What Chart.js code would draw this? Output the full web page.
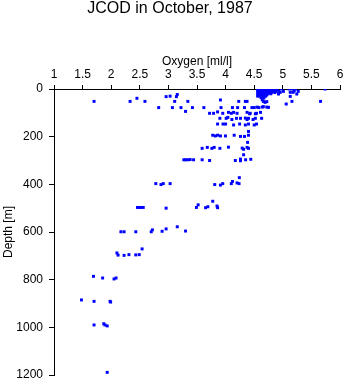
<!DOCTYPE html>
<html>
<head>
<meta charset="utf-8">
<script src="https://cdn.jsdelivr.net/npm/chart.js@4"></script>
<style>
  html, body { margin: 0; padding: 0; background: #fff; }
  #wrap { width: 345px; height: 384px; }
</style>
</head>
<body>
<div id="wrap"><canvas id="jcod-chart" width="345" height="384"></canvas></div>
<script>
// labels
const chartTitle = 'JCOD in October, 1987';
const xTitle = 'Oxygen [ml/l]';
const yTitle = 'Depth [m]';

// oxygen [ml/l], one row per depth band (same order as depth below)
const oxygen = [
  4.56, 4.60, 4.63, 4.66, 4.69, 4.72, 4.75, 4.78, 4.81, 4.84, 4.87, 4.90,
  4.57, 4.62, 4.67, 4.71, 4.76, 4.80, 4.85, 4.89,
  4.56, 4.60, 4.64, 4.69, 4.73, 4.78, 4.83, 4.88, 4.93,
  4.58, 4.62, 4.66, 4.71, 4.75, 4.80, 4.86,
  4.56, 4.61, 4.65, 4.70, 4.74, 4.79,
  4.58, 4.63, 4.68, 4.72,
  4.56, 4.60, 4.65, 4.70, 4.62, 4.67,
  4.98, 5.01, 5.11, 5.16, 5.20, 5.13, 5.18, 5.22, 5.245, 5.27, 5.13, 4.955, 4.925, 5.74, 5.66, 5.16, 5.06,
  1.70, 2.33, 2.45, 2.59, 2.96, 3.03, 3.14, 3.155, 3.11, 3.34, 3.91, 4.23, 4.345, 4.375, 4.64, 4.66, 4.69, 4.72,
  2.83, 3.07, 3.22, 3.42, 3.30, 3.62, 3.92, 4.12, 4.21, 4.33, 4.46, 4.50, 4.55, 4.58, 4.64, 4.66, 4.72, 4.75,
  3.72, 3.79, 3.86, 3.95, 4.05, 4.10, 4.14, 4.20, 4.375, 4.43, 4.42, 4.52, 4.54, 4.61,
  3.90, 4.01, 4.04, 4.11, 4.19, 4.26, 4.345, 4.375, 4.40, 4.48, 4.52, 4.63,
  3.86, 3.955, 4.00, 4.14, 4.245, 4.345, 4.40, 4.50, 4.54, 4.40,
  3.775, 3.82, 3.86, 3.91, 3.997, 4.15, 4.26, 4.33, 4.40, 4.385,
  3.59, 3.68, 3.76, 3.80, 3.90, 4.05, 4.29, 4.315, 4.375, 4.40, 4.315,
  3.27, 3.30, 3.34, 3.38, 3.44, 3.59, 3.72, 4.17, 4.26, 4.26, 4.35, 4.44,
  2.78, 2.87, 2.91, 3.03, 3.81, 3.91, 3.95, 4.10, 4.12, 4.20, 4.235, 4.24,
  2.46, 2.49, 2.515, 2.56, 2.96, 3.49, 3.52, 3.65, 3.69, 3.775, 3.85, 3.86,
  2.17, 2.225, 2.43, 2.70, 2.72, 2.89, 2.96, 3.155, 3.30,
  2.10, 2.12, 2.225, 2.31, 2.43, 2.49, 2.54,
  1.69, 1.85, 2.05, 2.085,
  1.48, 1.70, 1.98, 1.99,
  1.70, 1.87, 1.89, 1.93,
  1.93
];

// depth [m]
const depth = [
  0, 0, 0, 0, 0, 0, 0, 0, 0, 0, 0, 0,
  5, 5, 5, 5, 5, 5, 5, 5,
  10, 10, 10, 10, 10, 10, 10, 10, 10,
  15, 15, 15, 15, 15, 15, 15,
  20, 20, 20, 20, 20, 20,
  25, 25, 25, 25,
  30, 30, 30, 30, 36, 38,
  0, 10, 0, 0, 8, 14, 14, 0, 21, 10, 31, 14, 21, 0, 52, 52, 63,
  52, 52, 39, 52, 32, 30, 32, 23, 52, 52, 46, 52, 52, 52, 45, 52, 56, 53,
  78, 78, 78, 78, 94, 78, 78, 78, 78, 78, 78, 78, 76, 78, 76, 74, 76, 77,
  102, 102, 96, 102, 98, 102, 98, 102, 98, 102, 104, 104, 102, 98,
  123, 123, 119, 128, 123, 123, 122, 128, 123, 128, 123, 123,
  147, 147, 147, 151, 147, 151, 147, 151, 147, 178,
  194, 197, 194, 197, 197, 194, 199, 199, 194, 224,
  249, 245, 249, 245, 249, 244, 248, 253, 245, 249, 276,
  297, 297, 297, 296, 297, 297, 300, 300, 294, 301, 297, 295,
  397, 401, 397, 397, 401, 403, 397, 397, 388, 394, 397, 372,
  497, 497, 497, 497, 500, 497, 486, 498, 494, 471, 491, 498,
  599, 599, 599, 599, 591, 597, 587, 578, 596,
  688, 697, 698, 695, 696, 695, 671,
  786, 793, 797, 793,
  885, 891, 891, 894,
  990, 985, 990, 994,
  1189
];

const points = oxygen.map((o, i) => ({ x: o, y: depth[i] }));

const font = { family: '"Liberation Sans", Arial, sans-serif', size: 12 };

var ctx = document.getElementById('jcod-chart');

new Chart(ctx, {
  type: 'scatter',
  data: {
    datasets: [{
      data: points,
      pointStyle: 'rect',
      pointRadius: 2.1,
      pointBorderWidth: 0,
      backgroundColor: '#0000ff',
      borderColor: '#0000ff'
    }]
  },
  options: {
    responsive: false,
    animation: false,
    layout: { padding: { left: 0, top: 0, right: 5, bottom: 9 } },
    plugins: {
      legend: { display: false },
      tooltip: { enabled: false },
      title: {
        display: true,
        text: chartTitle,
        color: '#000',
        font: { family: font.family, size: 16, weight: 'normal', lineHeight: 1 },
        padding: { top: 1, bottom: 0 }
      }
    },
    scales: {
      x: {
        type: 'linear',
        position: 'top',
        min: 1,
        max: 6,
        // fixed box so the plot starts where the reference does
        afterFit: s => { s.height = 72; s.paddingLeft = 0; s.paddingRight = 0; },
        ticks: { stepSize: 0.5, color: '#000', font: font, padding: 3, maxRotation: 0, callback: v => String(v) },
        grid: { drawOnChartArea: false, drawTicks: true, tickLength: 4, color: '#000' },
        border: { display: true, color: '#000', width: 1 },
        title: { display: true, text: xTitle, color: '#000', font: font, padding: { top: 37, bottom: 0 } }
      },
      y: {
        type: 'linear',
        reverse: true,
        min: 0,
        max: 1200,
        afterFit: s => { s.width = 54; s.paddingTop = 0; s.paddingBottom = 0; },
        ticks: { stepSize: 200, color: '#000', font: font, padding: 6, callback: v => String(v) },
        grid: { drawOnChartArea: false, drawTicks: true, tickLength: 5, color: '#000' },
        border: { display: true, color: '#000', width: 1 },
        title: { display: true, text: yTitle, color: '#000', font: font, padding: { top: 1, bottom: 0 } }
      }
    }
  }
});
</script>
</body>
</html>
